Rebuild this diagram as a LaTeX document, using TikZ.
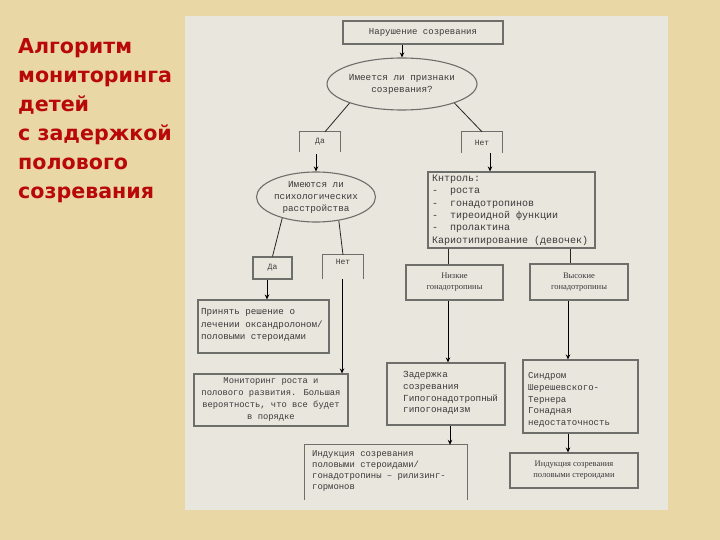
\documentclass[tikz,border=0pt]{standalone}
\usepackage{fontspec}
\usetikzlibrary{shapes.geometric,arrows.meta}
\newfontfamily\monof{Liberation Mono}
\newfontfamily\seriff{Liberation Serif}
\newfontfamily\titlef{DejaVu Sans}
\definecolor{parch}{HTML}{EAD7A6}
\definecolor{panel}{HTML}{E9E6DD}
\definecolor{boxgray}{HTML}{6E6E6A}
\definecolor{txt}{HTML}{3A3A3A}
\definecolor{titlered}{HTML}{B80808}
\tikzset{
  box/.style={draw=boxgray, line width=1.1pt, fill=panel, rectangle, inner sep=0pt},
  openbox/.style={rectangle, inner sep=0pt, text=txt},
  oval/.style={draw=boxgray, line width=1.1pt, fill=panel, ellipse, inner sep=0pt, text=txt, align=center},
  txtl/.style={anchor=west, inner sep=0pt, text=txt, align=left},
  txtc/.style={text=txt, align=center},
  arr/.style={draw=black, line width=0.8pt, -{Stealth[length=5pt,width=4.5pt]}},
  ln/.style={draw=black!85, line width=0.8pt},
  openln/.style={draw=boxgray, line width=1.1pt}
}
\begin{document}
\begin{tikzpicture}[x=1pt,y=-1pt]
\useasboundingbox (0,0) rectangle (720,540);
\fill[parch] (0,0) rectangle (720,540);
\fill[panel] (185,16) rectangle (668,510);
% title
\node[anchor=north west, inner sep=0pt, text=titlered, align=left,
  font=\titlef\bfseries\fontsize{20.6}{29}\selectfont] (title) at (18,38)
  {Алгоритм\\мониторинга\\детей\\с задержкой\\полового\\созревания};
% nodes
\node[box, minimum width=160pt, minimum height=23pt, txtc, font=\monof\fontsize{9}{11}\selectfont] (n1) at (423,32.5) {Нарушение созревания};
\node[oval, minimum width=117pt, minimum height=52pt, font=\monof\fontsize{9.3}{12}\selectfont] (e1) at (402,84) {Имеется ли признаки\\созревания?};
\node[openbox, minimum width=40pt, minimum height=20pt, font=\monof\fontsize{8}{10}\selectfont] (da1) at (320,142) {Да};
\draw[openln] (da1.south west) -- (da1.north west) -- (da1.north east) -- (da1.south east);
\node[openbox, minimum width=40pt, minimum height=21pt, font=\monof\fontsize{8}{10}\selectfont] (net1) at (482,142.5) {Нет};
\draw[openln] (net1.south west) -- (net1.north west) -- (net1.north east) -- (net1.south east);
\node[oval, minimum width=119pt, minimum height=50pt, font=\monof\fontsize{9.3}{12}\selectfont] (e2) at (316,197) {Имеются ли\\психологических\\расстройства};
\node[box, minimum width=167pt, minimum height=76pt] (ctrl) at (511.5,210) {};
\node[txtl, font=\monof\fontsize{10}{12.4}\selectfont] (ctrlt) at (432,210) {Кнтроль:\\-~~роста\\-~~гонадотропинов\\-~~тиреоидной функции\\-~~пролактина\\Кариотипирование (девочек)};
\node[box, minimum width=39pt, minimum height=22pt, txtc, font=\monof\fontsize{8}{10}\selectfont] (da2) at (272.5,268) {Да};
\node[openbox, minimum width=40pt, minimum height=24pt, font=\monof\fontsize{8}{10}\selectfont] (net2) at (343,267) {};
\node[txtc, inner sep=0pt, font=\monof\fontsize{8}{10}\selectfont] (net2t) at (343,262) {Нет};
\draw[openln] (net2.south west) -- (net2.north west) -- (net2.north east) -- (net2.south east);
\node[box, minimum width=131pt, minimum height=53pt] (prin) at (263.5,326.5) {};
\node[txtl, font=\monof\fontsize{9.2}{12.5}\selectfont] (print) at (201,325) {Принять решение о\\лечении оксандролоном/\\половыми стероидами};
\node[box, minimum width=154pt, minimum height=52pt, txtc, font=\monof\fontsize{8.8}{12}\selectfont] (mon) at (271,400) {Мониторинг роста и\\полового развития. Большая\\вероятность, что все будет\\в порядке};
\node[box, minimum width=97pt, minimum height=35pt, txtc, font=\seriff\fontsize{8.5}{11}\selectfont] (niz) at (454.5,282.5) {Низкие\\гонадотропины};
\node[box, minimum width=98pt, minimum height=36pt, txtc, font=\seriff\fontsize{8.5}{11}\selectfont] (vys) at (579,282) {Высокие\\гонадотропины};
\node[box, minimum width=118pt, minimum height=62pt] (zad) at (446,394) {};
\node[txtl, font=\monof\fontsize{9.3}{11.7}\selectfont] (zadt) at (403,393) {Задержка\\созревания\\Гипогонадотропный\\гипогонадизм};
\node[box, minimum width=115pt, minimum height=73pt] (sin) at (580.5,396.5) {};
\node[txtl, font=\monof\fontsize{9.1}{11.8}\selectfont] (sint) at (528,400) {Синдром\\Шерешевского-\\Тернера\\Гонадная\\недостаточность};
\node[openbox, minimum width=162pt, minimum height=55pt] (ind1) at (386,472.5) {};
\draw[openln] (ind1.south west) -- (ind1.north west) -- (ind1.north east) -- (ind1.south east);
\node[txtl, font=\monof\fontsize{8.9}{10.8}\selectfont] (ind1t) at (312,471) {Индукция созревания\\половыми стероидами/\\гонадотропины – рилизинг-\\гормонов};
\node[box, minimum width=128pt, minimum height=35pt, txtc, font=\seriff\fontsize{8.5}{11}\selectfont] (ind2) at (574,470.5) {Индукция созревания\\половыми стероидами};
% connectors
\draw[arr] (e1.north |- n1.south) -- (e1.north);
\draw[ln] (e1.200) -- ([xshift=5pt]da1.north);
\draw[ln] (e1.340) -- (net1.north);
\draw[arr] ([yshift=-2pt]e2.north |- da1.south) -- (e2.north);
\draw[arr] ([xshift=8pt]net1.south) -- ([xshift=8pt]net1.south |- ctrl.north);
\draw[ln] (e2.212) -- (da2.north);
\draw[ln] (e2.314) -- (net2.north);
\draw[ln] ([xshift=-6.5pt]niz.north |- ctrl.south) -- ([xshift=-6.5pt]niz.north);
\draw[ln] ([xshift=-9pt]vys.north |- ctrl.south) -- ([xshift=-9pt]vys.north);
\draw[arr] ([xshift=-5.5pt]da2.south) -- ([xshift=-5.5pt]da2.south |- prin.north);
\draw[arr] ([xshift=-1pt]net2.south) -- ([xshift=-1pt]net2.south |- mon.north);
\draw[arr] ([xshift=-6.5pt]niz.south) -- ([xshift=-6.5pt]niz.south |- zad.north);
\draw[arr] ([xshift=-11pt]vys.south) -- ([xshift=-11pt]vys.south |- sin.north);
\draw[arr] ([xshift=4pt]zad.south) -- ([xshift=4pt]zad.south |- ind1.north);
\draw[arr] ([xshift=-12.5pt]sin.south) -- ([xshift=-12.5pt]sin.south |- ind2.north);
\end{tikzpicture}
\end{document}
